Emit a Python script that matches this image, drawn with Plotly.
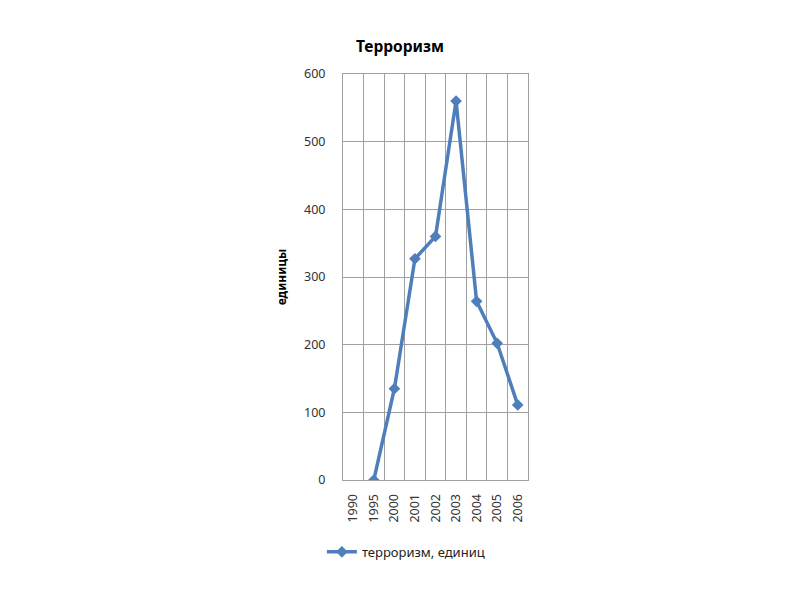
import plotly.graph_objects as go

years = ["1990", "1995", "2000", "2001", "2002", "2003", "2004", "2005", "2006"]
terror = [None, 0, 135, 327, 360, 560, 264, 202, 111]
y_ticks = [0, 100, 200, 300, 400, 500, 600]

FONT = "Noto Sans"

fig = go.Figure()
fig.add_trace(go.Scatter(
    x=years, y=terror, mode="lines+markers",
    name="терроризм, единиц",
    line=dict(color="#4F7FBA", width=3.5),
    marker=dict(symbol="diamond", size=9, color="#4F7FBA"),
    connectgaps=False,
))

fig.update_layout(
    width=800, height=600,
    paper_bgcolor="white", plot_bgcolor="white",
    margin=dict(l=335, r=280, t=66, b=128),
    title=dict(text="<b>Терроризм</b>", x=0.49, xanchor="center", y=0.935, yanchor="middle",
               font=dict(family=FONT, size=15.5, color="#000000")),
    showlegend=True,
    legend=dict(orientation="h", x=0.34, xanchor="center", y=-0.177, yanchor="middle",
                font=dict(family=FONT, size=13, color="#222222")),
    font=dict(family=FONT, color="#333333"),
)
fig.update_xaxes(
    type="category", tickson="boundaries", tickangle=-90,
    showgrid=True, gridcolor="#A0A0A0", gridwidth=1,
    showline=True, linecolor="#A0A0A0", mirror=True,
    ticks="", ticklabelstandoff=8, tickfont=dict(family=FONT, size=12.5, color="#333333"),
    range=[-0.5, 8.5],
)
fig.update_yaxes(
    range=[0, 600], tickvals=y_ticks,
    showgrid=True, gridcolor="#A0A0A0", gridwidth=1,
    showline=True, linecolor="#A0A0A0", mirror=True, zeroline=False,
    ticks="", ticklabelstandoff=14, tickfont=dict(family=FONT, size=12.5, color="#333333"),
    title=dict(text="<b>единицы</b>", font=dict(family=FONT, size=12, color="#000000"), standoff=14),
)

fig.write_html("out.html")
